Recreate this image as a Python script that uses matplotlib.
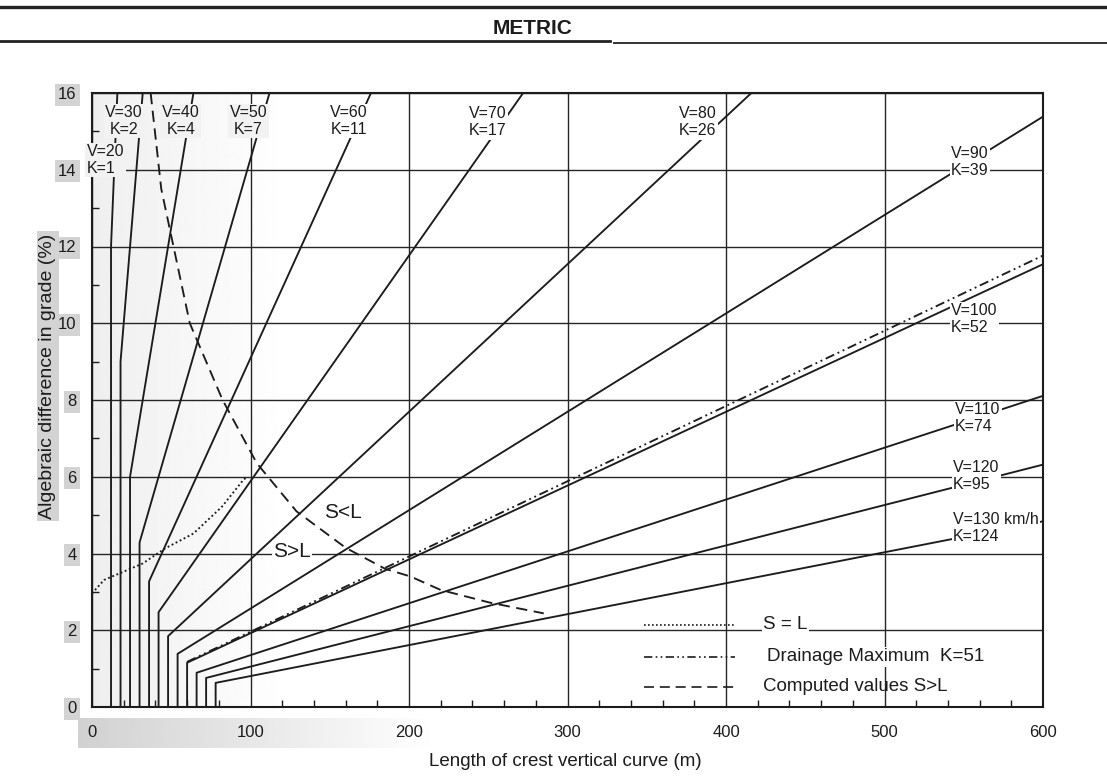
"""Crest vertical curve design chart (metric)."""
import numpy as np
import matplotlib
matplotlib.use("Agg")
import matplotlib.pyplot as plt
from matplotlib.lines import Line2D
from matplotlib.ticker import MultipleLocator

plt.rcParams['font.family'] = ['Liberation Sans', 'DejaVu Sans']

# design speed (km/h), rate of vertical curvature K, minimum curve length (m)
speeds = [20, 30, 40, 50, 60, 70, 80, 90, 100, 110, 120, 130]
k_values = [1, 2, 4, 7, 11, 17, 26, 39, 52, 74, 95, 124]
min_lengths = [12, 18, 24, 30, 36, 42, 48, 54, 60, 66, 72, 78]

# where each V/K label sits (length m, grade %)
label_x = [-3.4, 20.3, 56, 98.6, 161.9, 249.7, 382, 542, 542, 544.5, 543.3, 543.3]
label_y = [14.25, 15.27, 15.27, 15.27, 15.27, 15.24, 15.24, 14.2, 10.11, 7.53, 6.02, 4.66]

# computed values S>L (dashed boundary)
sl_length = [37, 43.7, 61.7, 82.4, 104, 129, 160, 185, 201, 220, 251, 285]
sl_grade = [16, 13.5, 10.0, 8.0, 6.35, 5.1, 4.15, 3.6, 3.4, 3.05, 2.72, 2.44]

# S = L (dotted)
dot_length = [0, 7.6, 32, 46, 64, 82, 95.5, 98]
dot_grade = [2.96, 3.31, 3.74, 4.13, 4.52, 5.22, 5.92, 6.0]

# drainage maximum
drainage_k = 51
drainage_start = 60

x_ticks = [0, 100, 200, 300, 400, 500, 600]
y_ticks = [0, 2, 4, 6, 8, 10, 12, 14, 16]

ink = "#1c1c1c"
W, H = 1107, 780

fig = plt.figure(figsize=(W / 100, H / 100), dpi=100)
ax = fig.add_axes([92 / W, 1 - 707 / H, (1043 - 92) / W, (707 - 93) / H])

# header rules and title
fig.add_artist(Line2D([0, 1], [1 - 7 / H] * 2, color="#222", lw=2.4))
fig.add_artist(Line2D([0, 610 / W], [1 - 41 / H] * 2, color="#222", lw=2.0))
fig.add_artist(Line2D([614 / W, 1], [1 - 43 / H] * 2, color="#333", lw=1.4))
fig.text(533 / W, 1 - 28 / H, "METRIC", ha="center", va="center",
         fontsize=15, fontweight="bold", color=ink)

# grey scan band under the left x tick labels
band = fig.add_axes([78 / W, 1 - 748 / H, 360 / W, 30 / H], zorder=-5)
grad = np.linspace(0.82, 1.0, 200)[None, :]
band.imshow(grad, cmap="gray", vmin=0, vmax=1, aspect="auto")
band.axis("off")

# faint grey wash on the left of the plotting area
wash = np.clip(np.linspace(0.935, 1.04, 300), 0, 1)[None, :]
ax.imshow(wash, cmap="gray", vmin=0, vmax=1, aspect="auto",
          extent=(0, 200, 0, 16), zorder=0)
ax.set_xlim(0, 600)
ax.set_ylim(0, 16)

bb = dict(facecolor="white", edgecolor="none", pad=1.0)

for v, k, lm, lx, ly in zip(speeds, k_values, min_lengths, label_x, label_y):
    ax.plot([lm, lm, 600], [0, lm / k, 600 / k], color=ink, lw=1.35, zorder=3)
    txt = f"V={v}\nK={k}" if v != 130 else f"V={v} km/h\nK={k}"
    ha = "center" if 30 <= v <= 80 else "left"
    face = "#f2f2f2" if v <= 50 else "white"
    ax.text(lx, ly, txt, ha=ha, va="center", fontsize=11.5, color=ink,
            linespacing=1.15, zorder=6, clip_on=False,
            bbox=dict(facecolor=face, edgecolor="none", pad=1.0))

ax.plot(sl_length, sl_grade, color=ink, lw=1.35, dashes=(6, 3.5), zorder=3)
ax.plot(dot_length, dot_grade, color=ink, lw=1.35, dashes=(1, 1.4), zorder=3)
ax.plot([drainage_start, 600], [drainage_start / drainage_k, 600 / drainage_k],
        color=ink, lw=1.35, dashes=(5, 2, 1, 2, 1, 2), zorder=3)

ax.text(158.4, 5.06, "S<L", ha="center", va="center", fontsize=15, color=ink,
        bbox=bb, zorder=6)
ax.text(126.2, 4.04, "S>L", ha="center", va="center", fontsize=15, color=ink,
        bbox=bb, zorder=6)

# key
ax.plot([348.3, 405.7], [2.14, 2.14], color=ink, lw=1.2, dashes=(1, 1.4), zorder=3)
ax.plot([348.3, 405.7], [1.30, 1.30], color=ink, lw=1.2, dashes=(5, 2, 1, 2, 1, 2), zorder=3)
ax.plot([348.3, 405.7], [0.52, 0.52], color=ink, lw=1.2, dashes=(6, 3.5), zorder=3)
ax.text(423.3, 2.14, "S = L", ha="left", va="center", fontsize=13.5, color=ink,
        bbox=bb, zorder=6)
ax.text(425.9, 1.31, "Drainage Maximum  K=51", ha="left", va="center",
        fontsize=13.5, color=ink, bbox=bb, zorder=6)
ax.text(423.3, 0.53, "Computed values S>L", ha="left", va="center",
        fontsize=13.5, color=ink, zorder=6)

# grid, ticks, frame
ax.set_xticks(x_ticks)
ax.set_yticks(y_ticks)
ax.xaxis.set_minor_locator(MultipleLocator(20))
ax.yaxis.set_minor_locator(MultipleLocator(1))
ax.grid(which="major", color="#262626", lw=1.0, zorder=1)
ax.set_axisbelow(True)
ax.tick_params(which="major", length=0, labelsize=12, colors=ink)
ax.tick_params(axis="x", which="major", pad=13)
ax.tick_params(axis="y", which="major", pad=11)
ax.tick_params(which="minor", direction="in", length=5, width=1.0, color=ink)
for s in ax.spines.values():
    s.set_linewidth(1.5)
    s.set_color(ink)
for t in ax.get_yticklabels():
    t.set_bbox(dict(facecolor="#d3d3d3", edgecolor="none", pad=2.5))

fig.text(565 / W, 1 - 762 / H, "Length of crest vertical curve (m)",
         ha="center", va="center", fontsize=13.5, color=ink)
fig.text(48 / W, 1 - 376 / H, "Algebraic difference in grade (%)",
         ha="center", va="center", rotation=90, fontsize=14, color=ink,
         bbox=dict(facecolor="#d3d3d3", edgecolor="none", pad=2))

fig.savefig("out.png", dpi=100)
